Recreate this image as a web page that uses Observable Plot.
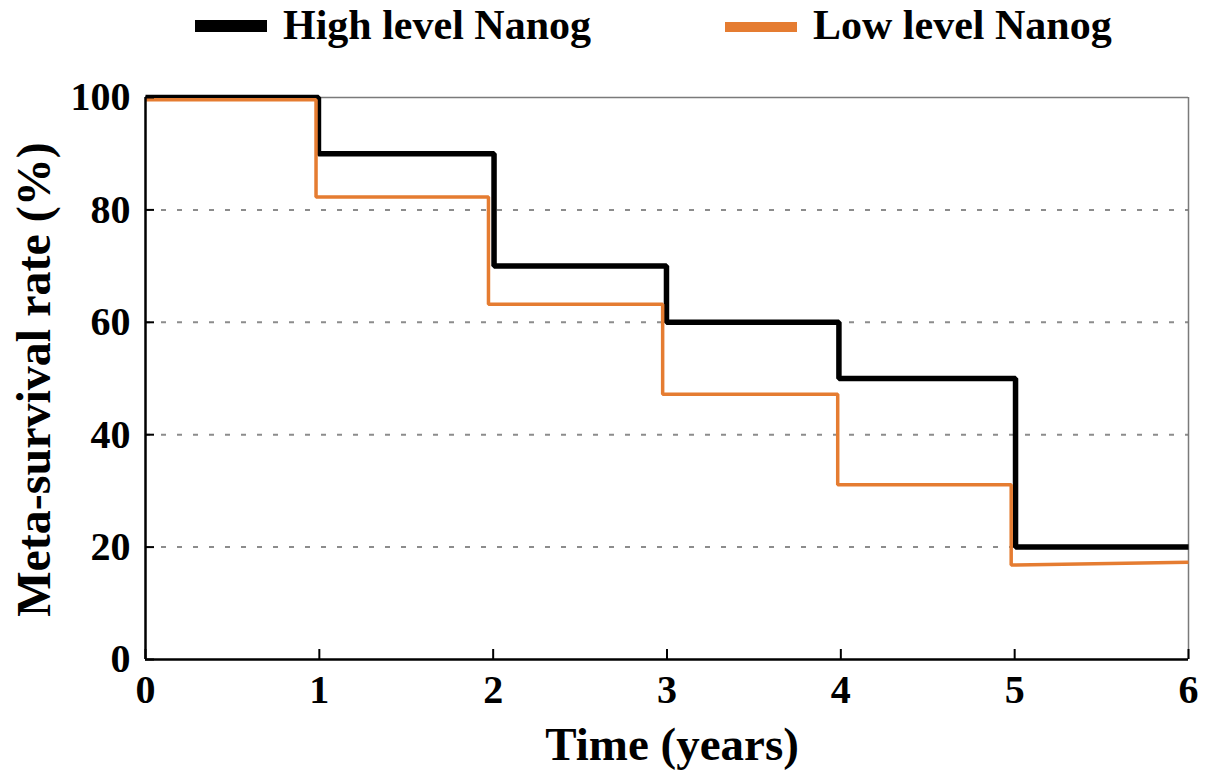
<!DOCTYPE html>
<html><head><meta charset="utf-8">
<script src="https://cdn.jsdelivr.net/npm/d3@7"></script>
<script src="https://cdn.jsdelivr.net/npm/@observablehq/plot@0.6"></script>
<style>
body{margin:0;background:#fff;font-family:"Liberation Serif","Times New Roman",serif;}
#legend{position:relative;height:60px;width:1205px;}
.sw{position:absolute;width:72px;}
.lb{position:absolute;font-size:42px;font-weight:bold;line-height:42px;white-space:nowrap;color:#000;}
svg{display:block}
</style></head><body>
<div id="legend"></div>
<div id="chart"></div>
<script>
// ---- data ----
const seriesNames = ["High level Nanog", "Low level Nanog"];
const seriesColors = ["#000000", "#E57C31"];
// Kaplan-Meier style step corners (time in years, survival %)
const highTime = [0, 0.995, 0.995, 2.005, 2.005, 2.997, 2.997, 3.989, 3.989, 5.005, 5.005, 6];
const highSurv = [100, 100, 90, 90, 70, 70, 60, 60, 50, 50, 20, 20];
const lowTime  = [0, 0.981, 0.981, 1.973, 1.973, 2.975, 2.975, 3.982, 3.982, 4.98, 4.98, 6];
const lowSurv  = [99.6, 99.6, 82.3, 82.3, 63.2, 63.2, 47.2, 47.2, 31.1, 31.1, 16.8, 17.3];
const xTicks = [0, 1, 2, 3, 4, 5, 6];
const yTicks = [0, 20, 40, 60, 80, 100];
const gridValues = [20, 40, 60, 80];
const xTitle = "Time (years)";
const yTitle = "Meta-survival rate (%)";

// ---- legend (HTML, above the svg) ----
const legend = document.getElementById("legend");
const legendPos = [{sw: 195, tx: 283, h: 12, top: 20}, {sw: 725, tx: 813, h: 10, top: 22}];
seriesNames.forEach((name, i) => {
  const s = document.createElement("div");
  s.className = "sw";
  s.style.left = legendPos[i].sw + "px";
  s.style.top = legendPos[i].top + "px";
  s.style.height = legendPos[i].h + "px";
  s.style.background = seriesColors[i];
  legend.appendChild(s);
  const t = document.createElement("div");
  t.className = "lb";
  t.style.left = legendPos[i].tx + "px";
  t.style.top = "4px";
  t.textContent = name;
  legend.appendChild(t);
});

const high = highTime.map((t, i) => ({t, s: highSurv[i]}));
const low = lowTime.map((t, i) => ({t, s: lowSurv[i]}));

const W = 1205, H = 723, mL = 145, mR = 17, mT = 37, mB = 124;
const innerW = W - mL - mR, innerH = H - mT - mB;
const font = "'Liberation Serif', 'Times New Roman', serif";

const chart = Plot.plot({
  width: W, height: H,
  marginLeft: mL, marginRight: mR, marginTop: mT, marginBottom: mB,
  x: {domain: [0, 6], label: null},
  y: {domain: [0, 100], label: null},
  style: {fontFamily: font, fontWeight: "bold", fontSize: "40px", background: "#fff", color: "#000", overflow: "visible"},
  marks: [
    Plot.ruleY(gridValues, {stroke: "#8c8c8c", strokeWidth: 2, strokeDasharray: "5,11"}),
    Plot.ruleY([100], {stroke: "#7a7a7a", strokeWidth: 1.5}),
    Plot.ruleX([6], {stroke: "#7a7a7a", strokeWidth: 1.5}),
    Plot.line(high, {x: "t", y: "s", stroke: seriesColors[0], strokeWidth: 5.5, strokeLinejoin: "miter", strokeLinecap: "butt"}),
    Plot.line(low, {x: "t", y: "s", stroke: seriesColors[1], strokeWidth: 3.5, strokeLinejoin: "miter", strokeLinecap: "butt"}),
    Plot.ruleX([0], {stroke: "#000", strokeWidth: 2.5}),
    Plot.ruleY([0], {stroke: "#000", strokeWidth: 2.5}),
    Plot.ruleX(xTicks, {stroke: "#000", strokeWidth: 2, insetTop: innerH - 10}),
    Plot.ruleY(yTicks, {stroke: "#000", strokeWidth: 2, insetRight: innerW - 9}),
    Plot.axisX({ticks: xTicks, tickFormat: d => String(d), tickSize: 0, tickPadding: 15, fontSize: 40, label: null}),
    Plot.axisY({ticks: yTicks, tickFormat: d => String(d), tickSize: 0, tickPadding: 15, fontSize: 40, label: null}),
    Plot.text([xTitle], {text: d => d, frameAnchor: "bottom", lineAnchor: "middle", textAnchor: "middle", dy: 85, dx: 5, fontSize: 47, fontWeight: "bold"}),
    Plot.text([yTitle], {text: d => d, frameAnchor: "left", lineAnchor: "middle", textAnchor: "middle", rotate: -90, dx: -111, dy: 1, fontSize: 48, fontWeight: "bold"})
  ]
});
document.getElementById("chart").appendChild(chart);
</script>
</body></html>
